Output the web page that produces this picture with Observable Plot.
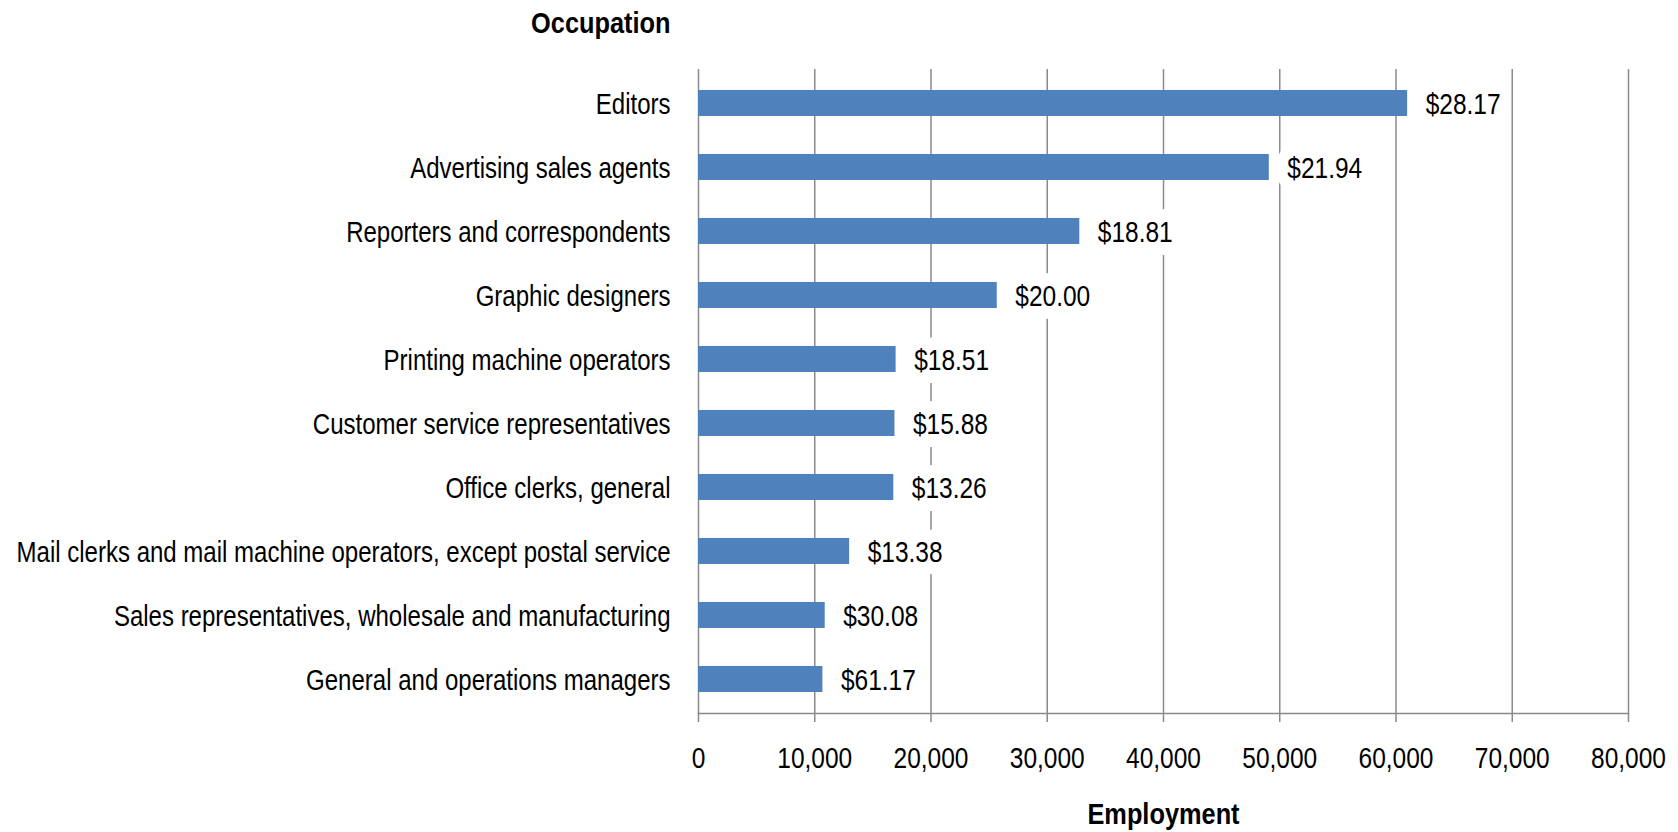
<!DOCTYPE html>
<html>
<head>
<meta charset="utf-8">
<script src="https://cdn.jsdelivr.net/npm/d3@7"></script>
<script src="https://cdn.jsdelivr.net/npm/@observablehq/plot@0.6"></script>
<style>
  html, body { margin: 0; padding: 0; background: #fff; }
</style>
</head>
<body>
<div id="chart"></div>
<script>
const categories = [
  "Editors",
  "Advertising sales agents",
  "Reporters and correspondents",
  "Graphic designers",
  "Printing machine operators",
  "Customer service representatives",
  "Office clerks, general",
  "Mail clerks and mail machine operators, except postal service",
  "Sales representatives, wholesale and manufacturing",
  "General and operations managers"
];
const employment = [61000, 49100, 32800, 25700, 17000, 16900, 16800, 13000, 10900, 10700];
const wages = ["$28.17", "$21.94", "$18.81", "$20.00", "$18.51", "$15.88", "$13.26", "$13.38", "$30.08", "$61.17"];
const xTicks = [0, 10000, 20000, 30000, 40000, 50000, 60000, 70000, 80000];
const yTitle = "Occupation";
const xTitle = "Employment";

const data = categories.map((c, i) => ({occupation: c, employment: employment[i], wage: wages[i]}));
const font = "'Liberation Sans', Arial, sans-serif";
const grid = "#8a8a8a";
const narrow = 0.845;      // emulate a narrow face by condensing glyphs horizontally
const narrowY = 0.828;     // category labels

const chart = Plot.plot({
  width: 1678,
  height: 832,
  marginLeft: 698,
  marginRight: 50,
  marginTop: 69,
  marginBottom: 119,
  style: {fontFamily: font, fontSize: "29px", color: "#000", background: "#fff", overflow: "visible"},
  x: {domain: [0, 80000], label: null},
  y: {domain: categories, paddingInner: 0.6, paddingOuter: 0.3, label: null},
  marks: [
    Plot.gridX(xTicks, {stroke: grid, strokeOpacity: 1, strokeWidth: 1.5}),
    Plot.barX(data, {x: "employment", y: "occupation", fill: "#4F81BD"}),
    Plot.text(data, {x: "employment", y: "occupation", text: "wage", textAnchor: "start", dx: 18, dy: 1,
      fill: "#000", stroke: "#fff", strokeWidth: 26, strokeLinejoin: "round"}),
    Plot.frame({anchor: "bottom", stroke: grid, strokeWidth: 1.5}),
    Plot.axisX(xTicks, {tickSize: 9, tickPadding: 25, stroke: grid, strokeWidth: 1.5, label: null,
      tickFormat: d3.format(","), fill: "#000"}),
    Plot.axisY({tickSize: 0, tickPadding: 28, label: null, fill: "#000", dy: 1}),
    Plot.text([yTitle], {text: d => d, frameAnchor: "top-left", textAnchor: "end", dx: -28, dy: -46,
      lineAnchor: "middle", fontWeight: "bold", fontSize: 30, fill: "#000"}),
    Plot.text([xTitle], {text: d => d, frameAnchor: "bottom", dy: 101, lineAnchor: "middle",
      fontWeight: "bold", fontSize: 30, fill: "#000"})
  ]
});
document.getElementById("chart").appendChild(chart);

// condense every label horizontally (keeps each text's anchor)
chart.querySelectorAll("text").forEach(t => {
  const g = t.closest("g[aria-label]");
  const factor = g && g.getAttribute("aria-label") === "y-axis tick label" ? narrowY : narrow;
  const spans = t.querySelectorAll("tspan");
  const targets = spans.length ? Array.from(spans) : [t];
  targets.forEach(el => {
    const len = el.getComputedTextLength();
    if (len > 0) {
      el.setAttribute("textLength", (len * factor).toFixed(2));
      el.setAttribute("lengthAdjust", "spacingAndGlyphs");
    }
  });
});
</script>
</body>
</html>
